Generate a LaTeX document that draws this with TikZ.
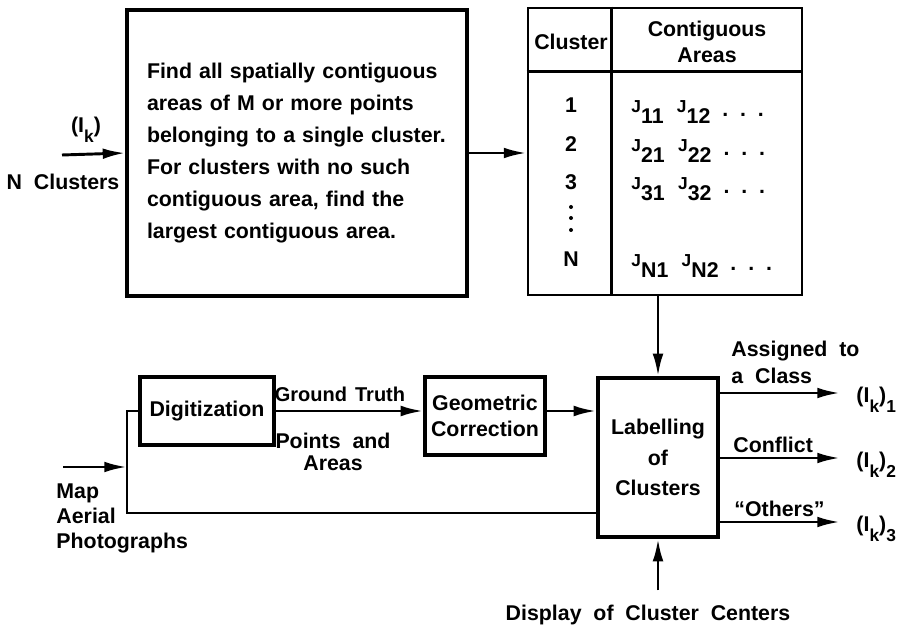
\documentclass[tikz,border=0pt]{standalone}
\usepackage{fontspec}
\setmainfont{Liberation Sans}[WordSpace=2]
\usetikzlibrary{positioning}
\usetikzlibrary{arrows.meta}

\newcommand{\sbs}[1]{\raisebox{-7pt}{\fontsize{13}{13}\selectfont #1}}
\newcommand{\jsub}[1]{{\fontsize{13}{13}\selectfont J}\raisebox{-8pt}{#1}}
\newcommand{\jdots}{\raisebox{-3pt}{.\ .\ .}}

\begin{document}
\begin{tikzpicture}[
    x = 0.75pt,
    y = -0.75pt,
    line width = 2.2pt,
    >={Latex[length=17pt,width=8pt]},
    ]

    \tikzstyle{box}=[
    draw = black,
    line width = 2.4pt,
    fill = white,
    align = center,
    font = \fontsize{16}{19}\selectfont\bfseries,
    ]
    \tikzstyle{txt}=[
    inner sep = 0pt,
    font = \fontsize{16}{19}\selectfont\bfseries,
    ]
    \tikzstyle{dot}=[
    circle,
    fill = black,
    inner sep = 0pt,
    minimum size = 3pt,
    ]

    \useasboundingbox (0,0) rectangle (921,630);

    \node[box, minimum width=255pt, minimum height=214.5pt, text width=255pt,
      inner xsep=0pt, align=left, font=\fontsize{16}{24}\selectfont\bfseries] (find) at (297,153)
      {\hspace*{15pt}Find all spatially contiguous\\
       \hspace*{15pt}areas of M or more points\\
       \hspace*{15pt}belonging to a single cluster.\\
       \hspace*{15pt}For clusters with no such\\
       \hspace*{15pt}contiguous area, find the\\
       \hspace*{15pt}largest contiguous area.};
    \node[txt, anchor=base] (ik) at (86,133) {(I\sbs{k})};
    \node[txt] (ncl) at (63,182) {N Clusters};
    \coordinate (nin) at (62,155);

    \node[draw, minimum width=205.5pt, minimum height=215.25pt] (tbl) at (665,151.5) {};
    \draw (tbl.north west) ++(0,65) -- ++(274,0);
    \draw (tbl.north west) ++(85,0) -- ++(0,287);
    \node[txt] (hcl) at (571,42) {Cluster};
    \node[txt, align=center] (har) at (707,42) {Contiguous\\Areas};
    \foreach \n/\y in {1/113, 2/152, 3/190} {
      \node[txt, anchor=base] (r\n) at (571,\y) {\n};
      \node[txt, anchor=base west] (j\n) at (630,\y) {\jsub{\n1}\hspace{10pt}\jsub{\n2}\hspace{9pt}\jdots};
    }
    \foreach \d/\y in {1/207, 2/218, 3/230}
      \node[dot] (vd\d) at (571,\y) {};
    \node[txt, anchor=base] (rN) at (571,267) {N};
    \node[txt, anchor=base west] (jN) at (630,267) {\jsub{N1}\hspace{10pt}\jsub{N2}\ \jdots};

    \node[box, minimum width=100.5pt, minimum height=51pt] (dig) at (207,411) {Digitization};
    \node[box, minimum width=90pt, minimum height=58.5pt] (geo) at (485,416) {Geometric\\Correction};
    \node[box, minimum width=90pt, minimum height=119.25pt,
      font=\fontsize{16}{23}\selectfont\bfseries] (lab) at (658,457.5) {Labelling\\of\\Clusters};

    \node[txt, anchor=base, font=\fontsize{15}{18}\selectfont\bfseries] (gt) at (340,402) {Ground\hspace{6pt}Truth};
    \node[txt, align=center, font=\fontsize{16}{17}\selectfont\bfseries] (pts) at (333,452) {Points and\\Areas};
    \node[txt, align=left, anchor=north west] (map) at (55,482) {Map\\Aerial\\Photographs};
    \coordinate (min) at (63,467);
    \coordinate (split) at (127,467);
    \coordinate (bus) at (127,513);

    \node[txt, align=left, anchor=south west, font=\fontsize{16}{20}\selectfont\bfseries] (asg) at (730,385) {Assigned to\\a Class};
    \node[txt, anchor=base west] (cnf) at (732,453) {Conflict};
    \node[txt, anchor=base west] (oth) at (733,517) {``Others''};
    \node[txt] (disp) at (648,615) {Display of Cluster Centers};

    \draw[->] (nin) -- (find.west);
    \draw[->] (find.east) -- (find.east -| tbl.west);
    \draw[->] (tbl.south -| lab.north) -- (lab.north);
    \draw[->] (min) -- (split);
    \draw (dig.west) -| (bus) -- (bus -| lab.west);
    \draw[->] (dig.east) -- (dig.east -| geo.west);
    \draw[->] (geo.east |- dig.east) -- (lab.west |- dig.east);
    \draw[->, shorten <=10pt] (disp.north -| lab.south) -- (lab.south);

    \foreach \i/\y in {1/393, 2/458, 3/522} {
      \node[txt, anchor=base west] (o\i) at (855,\y+10) {(I\sbs{k})\sbs{\i}};
      \coordinate (t\i) at (840,\y);
      \draw[->] (lab.east |- t\i) -- (t\i);
    }
\end{tikzpicture}
\end{document}
